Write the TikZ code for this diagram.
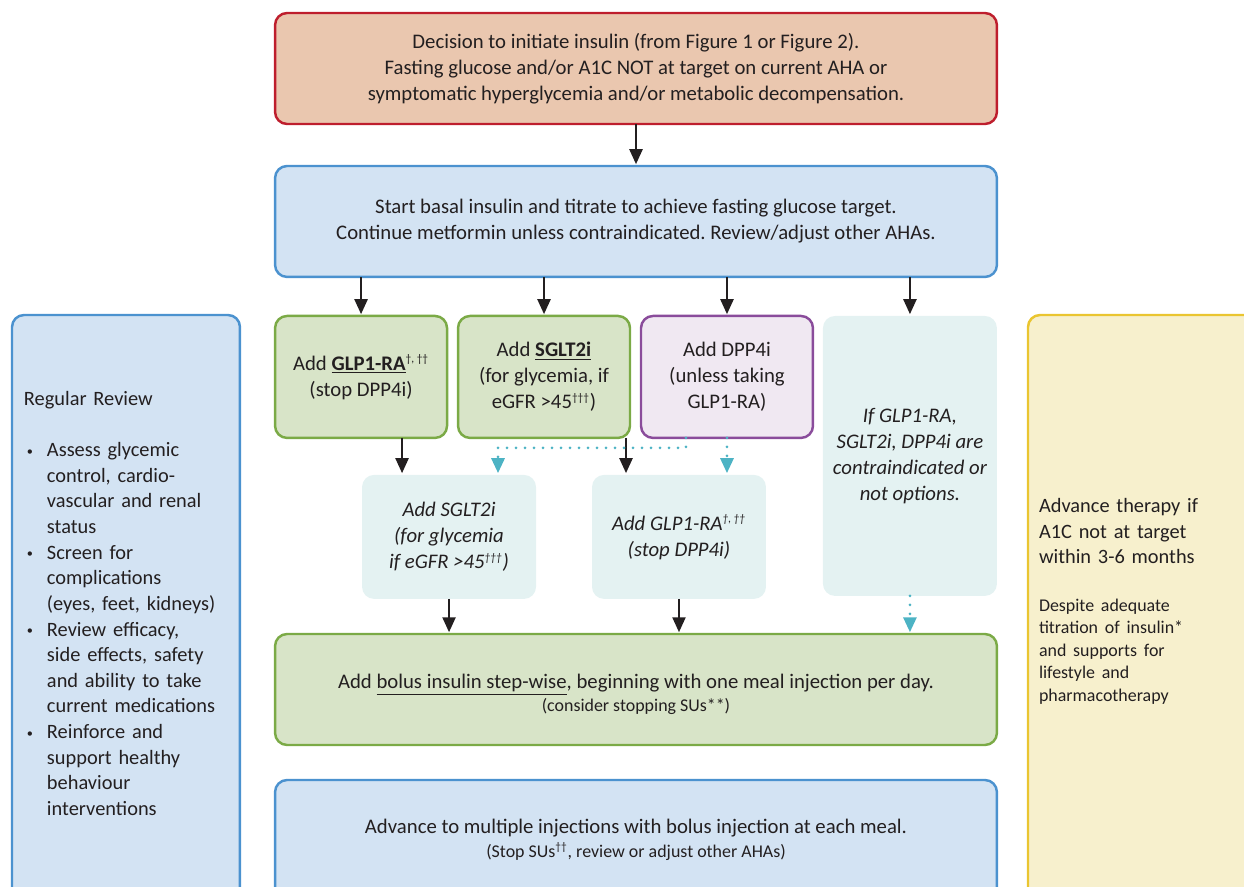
\documentclass[tikz,border=0pt]{standalone}
\usepackage{fontspec}
\setmainfont{Carlito}
\usetikzlibrary{arrows.meta,positioning}
\frenchspacing

\definecolor{ink}{HTML}{231F20}
\definecolor{redline}{HTML}{BE1E2D}
\definecolor{redfill}{HTML}{EAC7AF}
\definecolor{blueline}{HTML}{4B92CF}
\definecolor{bluefill}{HTML}{D3E3F3}
\definecolor{greenline}{HTML}{7BAA46}
\definecolor{greenfill}{HTML}{D8E4C8}
\definecolor{purpleline}{HTML}{8A4C9B}
\definecolor{purplefill}{HTML}{F0E8F2}
\definecolor{tealfill}{HTML}{E4F2F2}
\definecolor{tealline}{HTML}{4DB3C4}
\definecolor{yellowline}{HTML}{EAC530}
\definecolor{yellowfill}{HTML}{F7F0CD}

\newcommand{\mainsize}{\fontsize{11.8pt}{14.8pt}\selectfont}
\newcommand{\sidesize}{\fontsize{11.6pt}{14.6pt}\selectfont}
\newcommand{\notesize}{\fontsize{10.2pt}{12.8pt}\selectfont}
\newcommand{\itembullet}{\raisebox{0.6pt}{\scriptsize\textbullet}}
\newcommand{\dagg}[1]{\textsuperscript{\fontsize{6.5pt}{7pt}\selectfont #1}}

\tikzset{>={Triangle[width=0.26cm,length=0.3cm]},shorten >=1pt}
\tikzset{
  box/.style={rounded corners=0.24cm, line width=1.4pt, align=center,
    inner sep=0pt, outer sep=0pt, text=ink, font=\mainsize},
  redbox/.style={box, draw=redline, fill=redfill},
  bluebox/.style={box, draw=blueline, fill=bluefill},
  greenbox/.style={box, draw=greenline, fill=greenfill},
  purplebox/.style={box, draw=purpleline, fill=purplefill},
  tealbox/.style={box, fill=tealfill, font=\mainsize\itshape},
  yellowbox/.style={box, draw=yellowline, fill=yellowfill},
  widebox/.style={minimum width=14.44cm, minimum height=2.22cm},
  drugbox/.style={minimum width=3.44cm, minimum height=2.44cm},
  altbox/.style={minimum width=3.48cm, minimum height=2.48cm},
  arrowline/.style={->, draw=ink, line width=1.3pt},
  dotline/.style={->, draw=tealline, line width=0.06cm, line cap=round,
    dash pattern=on 0pt off 0.18cm}
}

\begin{document}
\begin{tikzpicture}[x=0.02cm, y=-0.02cm]
\useasboundingbox (0,0) rectangle (1244,886);
\clip (0,0) rectangle (1244,886);

% main column
\node[redbox, widebox] (decision) at (636,68.5)
  {Decision to initiate insulin (from Figure 1 or Figure 2).\\
   Fasting glucose and/or A1C NOT at target on current AHA or\\
   symptomatic hyperglycemia and/or metabolic decompensation.};
\node[bluebox, widebox, below=0.84cm of decision] (basal)
  {Start basal insulin and titrate to achieve fasting glucose target.\\
   Continue metformin unless contraindicated. Review/adjust other AHAs.};

% add-on choices
\node[greenbox, drugbox, below right=0.78cm and 0cm of basal.south west] (glp)
  {Add \underline{\textbf{GLP1-RA}}\dagg{†, ††}\\(stop DPP4i)};
\node[greenbox, drugbox, right=0.22cm of glp] (sglt)
  {Add \underline{\textbf{SGLT2i}}\\(for glycemia, if\\eGFR >45\dagg{†††})};
\node[purplebox, drugbox, right=0.22cm of sglt] (dpp)
  {Add DPP4i\\(unless taking\\GLP1-RA)};
\node[tealbox, minimum width=3.48cm, minimum height=5.6cm,
  below right=0cm and 0.2cm of dpp.north east] (contra)
  {If GLP1-RA,\\SGLT2i, DPP4i are\\contraindicated or\\not options.};
\node[tealbox, altbox, below right=0.74cm and 1.74cm of glp.south west] (isglt)
  {Add SGLT2i\\(for glycemia\\if eGFR >45\dagg{†††})};
\node[tealbox, altbox, right=1.12cm of isglt] (iglp)
  {Add GLP1-RA\dagg{†, ††}\\(stop DPP4i)};

\node[greenbox, widebox, anchor=north] (bolus) at (636,634)
  {\rule{0pt}{14pt}Add \underline{bolus insulin step-wise}, beginning with one meal injection per day.\\[-1.5pt]
   {\notesize (consider stopping SUs**)}};
\node[bluebox, minimum width=14.44cm, minimum height=2.4cm, anchor=north] (advance) at (636,780)
  {Advance to multiple injections with bolus injection at each meal.\\[-1.5pt]
   {\notesize (Stop SUs\dagg{††}, review or adjust other AHAs)}};

% side panels
\node[bluebox, minimum width=4.56cm, minimum height=11.7cm, text width=4.08cm,
  align=left, anchor=north west, font=\sidesize] (review) at (12,315)
  {Regular Review\\[0.5cm]
   \begin{tabular}[t]{@{\hspace{0.06cm}}p{0.4cm}@{}l@{}}
   \itembullet & Assess glycemic\\ & control, cardio-\\ & vascular and renal\\ & status\\
   \itembullet & Screen for\\ & complications\\ & (eyes, feet, kidneys)\\
   \itembullet & Review efficacy,\\ & side effects, safety\\ & and ability to take\\ & current medications\\
   \itembullet & Reinforce and\\ & support healthy\\ & behaviour\\ & interventions
   \end{tabular}};
\node[yellowbox, minimum width=4.84cm, minimum height=11.7cm, text width=4.4cm,
  align=left, anchor=north west, font=\sidesize] (therapy) at (1028,315)
  {Advance therapy if\\A1C not at target\\within 3-6 months\\[0.5cm]
   {\notesize Despite adequate\\titration of insulin*\\and supports for\\lifestyle and\\pharmacotherapy\par}
   \vspace{0.25cm}};

% connectors
\draw[arrowline] (decision) -- (basal);
\draw[arrowline] (basal.south -| glp) -- (glp);
\draw[arrowline] (basal.south -| sglt) -- (sglt);
\draw[arrowline] (basal.south -| dpp) -- (dpp);
\draw[arrowline] (basal.south -| contra) -- (contra);
\draw[arrowline] ([xshift=0.82cm]glp.south) -- ([xshift=0.82cm]glp.south |- isglt.north);
\draw[arrowline] ([xshift=1.64cm]sglt.south) -- ([xshift=1.64cm]sglt.south |- iglp.north);
\draw[arrowline] (isglt) -- (isglt.south |- bolus.north);
\draw[arrowline] (iglp) -- (iglp.south |- bolus.north);

\draw[dotline] ([xshift=-0.82cm]dpp.south) -- ++(0,10) -| ([xshift=0.98cm]isglt.north);
\draw[dotline] (dpp) -- ([xshift=0.96cm]iglp.north);
\draw[dotline] (contra) -- (contra.south |- bolus.north);
\end{tikzpicture}
\end{document}
